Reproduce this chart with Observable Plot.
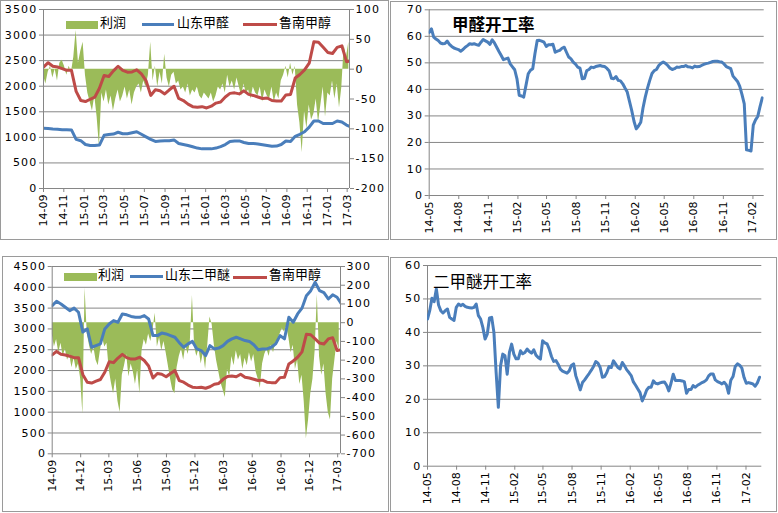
<!DOCTYPE html>
<html><head><meta charset="utf-8">
<script src="https://cdn.jsdelivr.net/npm/d3@7"></script>
<script src="https://cdn.jsdelivr.net/npm/@observablehq/plot@0.6"></script>
<style>
body{margin:0;background:#fff;}
#wrap{position:relative;width:778px;height:513px;overflow:hidden;}
.box{position:absolute;border:1px solid #9a9a9a;box-sizing:border-box;pointer-events:none;}
.txt{position:absolute;font-family:"Noto Sans CJK SC",sans-serif;line-height:1;white-space:nowrap;color:#000;}
.sw{position:absolute;}
</style></head><body><div id="wrap"></div><script>
// ---------- data ----------
// Panel 1: profit (right axis), 山东甲醛 & 鲁南甲醇 (left axis)
const p1Start = "2014-09-01";            // weekly profit series start
const p1Profit = [-10,-25,-5,5,-15,0,-20,10,15,5,-10,5,-5,20,65,10,30,45,-10,-40,-55,-70,-45,-80,-130,-40,-55,-35,-60,-45,-70,-50,-35,-55,-45,-30,-50,-35,-60,-40,-30,-25,-40,-20,-30,-10,45,-20,5,-30,-5,-25,25,-15,-30,-10,-5,-25,-20,-35,-30,-40,-25,-45,-35,-40,-30,-45,-50,-40,-45,-50,-40,-55,-45,-30,-35,-25,-40,-10,-30,-20,-35,-15,-30,-45,-25,-40,-35,-50,-30,-40,-45,-30,-55,-35,-45,-50,-30,-55,-40,-50,-20,-10,5,-15,10,-10,5,-60,-90,-140,-70,-100,-60,-85,-75,-50,-90,-60,-30,-80,-40,-45,-20,-50,-25,-65,-30,40,20,45];
// bi-weekly price series
const sdFormaldehyde = [1180,1175,1165,1160,1150,1150,1145,960,935,860,840,840,850,1040,1055,1065,1100,1070,1070,1090,1110,1060,1010,960,920,930,935,935,950,880,860,840,815,790,775,775,775,790,820,860,920,930,930,900,880,880,870,855,840,825,830,860,930,920,1020,1060,1110,1200,1320,1320,1270,1270,1270,1320,1300,1240,1200];
const lnMethanol = [2375,2460,2390,2375,2345,2310,2310,1900,1720,1700,1745,1785,1960,2210,2190,2300,2390,2310,2275,2280,2320,2240,2110,1820,1930,1910,1850,1930,2000,1760,1720,1650,1600,1590,1600,1575,1610,1670,1690,1790,1860,1870,1850,1910,1840,1820,1790,1760,1770,1720,1710,1710,1830,1840,2160,2230,2320,2450,2870,2860,2760,2660,2640,2760,2790,2480,2500];
const p1Ticks = ["14-09","14-11","15-01","15-03","15-05","15-07","15-09","15-11","16-01","16-03","16-05","16-07","16-09","16-11","17-01","17-03"];

// Panel 3: profit (right axis), 山东二甲醚 & 鲁南甲醇 (left axis)
const p3Profit = [-60,-130,-90,-160,-110,-180,-140,-200,-170,-240,-190,-250,-220,-300,-490,185,-60,-120,-170,-130,-200,-230,-150,-80,-130,-110,-250,-320,-380,-300,-420,-480,-280,-230,-170,-290,-220,-260,-330,-250,-380,-150,-90,-120,-60,-100,-40,50,-130,-80,-150,-100,-160,-230,-300,-360,-380,-240,-180,-140,-200,-120,-170,-110,145,-130,-180,-140,-220,-160,-250,-120,30,-10,-120,-200,-260,-320,-360,-400,-250,-290,-180,-230,-150,-200,-170,-250,-190,-230,-160,-210,-170,-260,-300,-350,-220,-170,-140,-180,-120,-160,-110,-90,-60,-30,-50,-20,-80,-160,-120,-250,-200,-330,-280,-420,-620,-520,-380,-300,-150,150,-180,-280,-220,-380,-480,-520,-300,-200,-100,-150];
const sdDME = [3560,3665,3600,3520,3440,3500,3400,2925,3000,2560,2600,2640,3000,3120,3200,3160,3360,3340,3300,3280,3280,3320,3240,2840,2840,2900,2880,2840,2800,2670,2560,2640,2700,2520,2480,2360,2600,2520,2540,2600,2700,2760,2800,2760,2720,2700,2620,2500,2520,2520,2560,2640,2840,2760,3280,3160,3360,3500,3800,3920,4120,3920,3870,3720,3820,3760,3600];
const p3Ticks = ["14-09","14-12","15-03","15-06","15-09","15-12","16-03","16-06","16-09","16-12","17-03"];

// Panel 2 / 4: weekly operating rates
const rateStart = "2014-05-01";
const formaldehydeRate = [61.5,62.8,59.7,59.0,58.4,57.5,57.2,57.3,58.2,57.0,56.2,55.6,55.3,55.0,54.4,55.0,55.9,56.5,57.2,57.0,57.2,56.9,56.6,57.8,58.8,58.3,57.8,57.0,58.7,57.5,55.9,54.3,52.8,51.2,51.5,51.8,49.6,48.5,47.4,44.0,37.8,37.5,37.1,41.5,45.9,47.2,47.8,53.5,58.4,58.5,58.2,57.8,56.2,56.8,56.8,57.0,54.0,54.4,54.7,55.5,55.9,54.0,52.2,51.5,50.3,49.5,48.4,48.0,44.0,44.2,47.1,47.5,48.4,48.2,48.6,48.8,49.0,48.7,48.6,47.9,46.9,44.2,44.0,44.8,43.4,43.2,42.1,40.5,39.0,35.5,32.0,28.0,25.1,26.2,27.6,33.0,37.1,40.5,43.4,46.0,47.1,47.5,49.0,49.8,50.3,49.8,49.0,48.0,47.5,47.8,48.4,48.3,48.6,48.6,49.0,48.5,48.4,48.1,48.8,48.5,48.6,49.0,49.4,49.7,49.9,50.2,50.5,50.6,50.6,50.4,50.3,49.6,48.6,48.2,47.8,45.0,44.0,43.0,41.1,38.0,34.5,17.2,17.0,16.8,26.5,28.5,29.8,33.5,36.8];
const dmeRate = [44.0,46.5,50.2,49.2,53.0,48.2,46.5,45.8,46.5,47.0,44.5,44.0,43.6,47.5,48.5,48.0,48.4,47.8,47.5,47.4,47.3,47.5,48.5,45.0,44.0,41.5,38.0,39.5,44.3,44.5,40.0,28.0,17.6,30.0,33.5,33.0,27.5,34.0,36.5,33.5,32.1,32.1,34.5,33.6,34.0,35.0,34.3,33.8,34.8,33.2,32.5,32.0,37.5,36.9,36.6,35.0,32.8,31.3,31.6,30.5,29.0,28.4,28.1,27.8,28.5,30.1,30.6,27.0,25.0,22.8,25.0,25.8,26.8,27.7,28.7,29.8,31.3,30.8,29.5,26.6,26.8,28.0,29.8,29.5,31.5,30.5,29.5,29.1,31.0,30.0,28.8,28.0,27.1,25.2,24.2,23.1,22.0,19.5,21.0,22.8,23.6,23.6,25.5,24.8,24.6,24.9,25.1,25.2,24.2,22.5,24.8,27.5,25.6,25.6,25.6,25.5,25.3,21.8,22.9,22.9,24.1,23.6,24.2,24.6,25.0,25.3,25.8,27.0,27.6,27.6,25.8,25.3,25.0,24.6,25.1,24.3,21.8,25.7,26.8,29.8,30.6,30.2,29.3,26.5,24.8,25.0,24.8,24.6,23.9,24.9,26.6];
const rateTicks = ["14-05","14-08","14-11","15-02","15-05","15-08","15-11","16-02","16-05","16-08","16-11","17-02"];

// ---------- helpers ----------
const GREEN = "#9BBB59", BLUE = "#4A7EBB", RED = "#BE4B48", GRID = "#868686";
const day = s => new Date(s + "T00:00:00Z");
const parseM = d3.utcParse("%y-%m");
const fmtM = d3.utcFormat("%y-%m");
const fmtN = d => String(d);
const series = (start, values, step) => values.map((v, i) => ({date: d3.utcDay.offset(day(start), i * step), v}));
const wrap = document.getElementById("wrap");
const baseStyle = {fontFamily: "DejaVu Sans, sans-serif", fontSize: "11px", color: "#000", background: "transparent", overflow: "visible"};

function place(svg, l, t) {
  svg.querySelectorAll('g[aria-label="y-axis tick label"]').forEach(g => g.setAttribute("letter-spacing", "1.2px"));
  const d = document.createElement("div");
  d.style.cssText = `position:absolute;left:${l}px;top:${t}px;`;
  d.appendChild(svg); wrap.appendChild(d);
}
function box(l, t, w, h) { const d = document.createElement("div"); d.className = "box"; d.style.cssText = `left:${l}px;top:${t}px;width:${w}px;height:${h}px`; wrap.appendChild(d); }
function text(s, l, t, size, weight) { const d = document.createElement("div"); d.className = "txt"; d.textContent = s; d.style.cssText = `left:${l}px;top:${t}px;font-size:${size}px;font-weight:${weight||400}`; wrap.appendChild(d); }
function swatch(l, t, w, h, c) { const d = document.createElement("div"); d.className = "sw"; d.style.cssText = `left:${l}px;top:${t}px;width:${w}px;height:${h}px;background:${c}`; wrap.appendChild(d); }

function dualPanel({w, h, m, xDomain, ticks, yMax, yStep, rMin, rMax, rStep, profit, blue, red}) {
  const toL = v => (v - rMin) * yMax / (rMax - rMin);
  const fromL = y => String(Math.round(y * (rMax - rMin) / yMax + rMin));
  const prof = series(p1Start, profit, 7);
  const b = series(p1Start, blue, 14), r = series(p1Start, red, 14);
  return Plot.plot({
    width: w, height: h, marginLeft: m[0], marginRight: m[1], marginTop: m[2], marginBottom: m[3],
    style: baseStyle,
    x: {type: "utc", domain: xDomain},
    y: {domain: [0, yMax]},
    marks: [
      Plot.gridY(d3.range(0, yMax + 1, yStep), {stroke: GRID, strokeOpacity: 1}),
      Plot.areaY(prof, {x: "date", y1: toL(0), y2: d => toL(d.v), fill: GREEN, clip: true}),
      Plot.lineY(r, {x: "date", y: "v", stroke: RED, strokeWidth: 3, clip: true}),
      Plot.lineY(b, {x: "date", y: "v", stroke: BLUE, strokeWidth: 3, clip: true}),
      Plot.ruleX([xDomain[0], xDomain[1]], {stroke: GRID}),
      Plot.axisY(d3.range(0, yMax + 1, yStep), {anchor: "left", tickSize: 4, tickPadding: 2, stroke: GRID, tickFormat: fmtN, label: null}),
      Plot.axisY(d3.range(rMin, rMax + 1, rStep).map(toL), {anchor: "right", tickSize: 4, tickPadding: 2, stroke: GRID, tickFormat: fromL, label: null}),
      Plot.axisX(ticks.map(parseM), {anchor: "bottom", tickRotate: -90, tickSize: 4, tickPadding: 2, tickFormat: fmtM, stroke: GRID, label: null})
    ]
  });
}

function ratePanel({w, h, m, xDomain, values, yMax}) {
  const data = series(rateStart, values, 7);
  return Plot.plot({
    width: w, height: h, marginLeft: m[0], marginRight: m[1], marginTop: m[2], marginBottom: m[3],
    style: baseStyle,
    x: {type: "utc", domain: xDomain},
    y: {domain: [0, yMax]},
    marks: [
      Plot.gridY(d3.range(0, yMax + 1, 10), {stroke: GRID, strokeOpacity: 1}),
      Plot.ruleX([xDomain[0]], {stroke: GRID}),
      Plot.lineY(data, {x: "date", y: "v", stroke: BLUE, strokeWidth: 3, clip: true}),
      Plot.axisY(d3.range(0, yMax + 1, 10), {anchor: "left", tickSize: 4, tickPadding: 2, stroke: GRID, tickFormat: fmtN, label: null}),
      Plot.axisX(rateTicks.map(parseM), {anchor: "bottom", tickRotate: -90, tickSize: 4, tickPadding: 2, tickFormat: fmtM, stroke: GRID, label: null})
    ]
  });
}

// ---------- panels ----------
place(dualPanel({w: 388, h: 239, m: [43, 39, 9, 51], xDomain: [day("2014-09-01"), day("2017-03-08")], ticks: p1Ticks,
  yMax: 3500, yStep: 500, rMin: -200, rMax: 100, rStep: 50, profit: p1Profit, blue: sdFormaldehyde, red: lnMethanol}), 0, 0);
place(ratePanel({w: 386, h: 239, m: [38.7, 12.3, 9.3, 44], xDomain: [day("2014-05-01"), day("2017-03-08")], values: formaldehydeRate, yMax: 70}), 390, 0);
place(dualPanel({w: 388, h: 256, m: [51.7, 48, 10, 58.7], xDomain: [day("2014-09-01"), day("2017-03-10")], ticks: p3Ticks,
  yMax: 4500, yStep: 500, rMin: -700, rMax: 300, rStep: 100, profit: p3Profit, blue: sdDME, red: lnMethanol}), 0, 256);
place(ratePanel({w: 386, h: 256, m: [37, 14.7, 9, 46.3], xDomain: [day("2014-05-01"), day("2017-03-23")], values: dmeRate, yMax: 60}), 390, 256);

// boxes
box(0, 0, 389, 240); box(390, 1, 387, 239); box(2, 256, 387, 256); box(390, 257, 387, 255);

// legends
swatch(66, 21, 32, 8, GREEN); text("利润", 100, 14.5, 13);
swatch(142, 23, 32, 3, BLUE); text("山东甲醛", 177, 14.5, 13);
swatch(243, 23, 34, 3, RED); text("鲁南甲醇", 279, 14.5, 13);
swatch(64, 273, 33, 8, GREEN); text("利润", 98, 266.5, 13);
swatch(130, 275, 33, 3, BLUE); text("山东二甲醚", 165, 266.5, 13);
swatch(233, 276, 34, 3, RED); text("鲁南甲醇", 269, 266.5, 13);
// titles
text("甲醛开工率", 452, 15.5, 16.5, 700);
text("二甲醚开工率", 433, 273, 16.5, 400);
</script></body></html>
